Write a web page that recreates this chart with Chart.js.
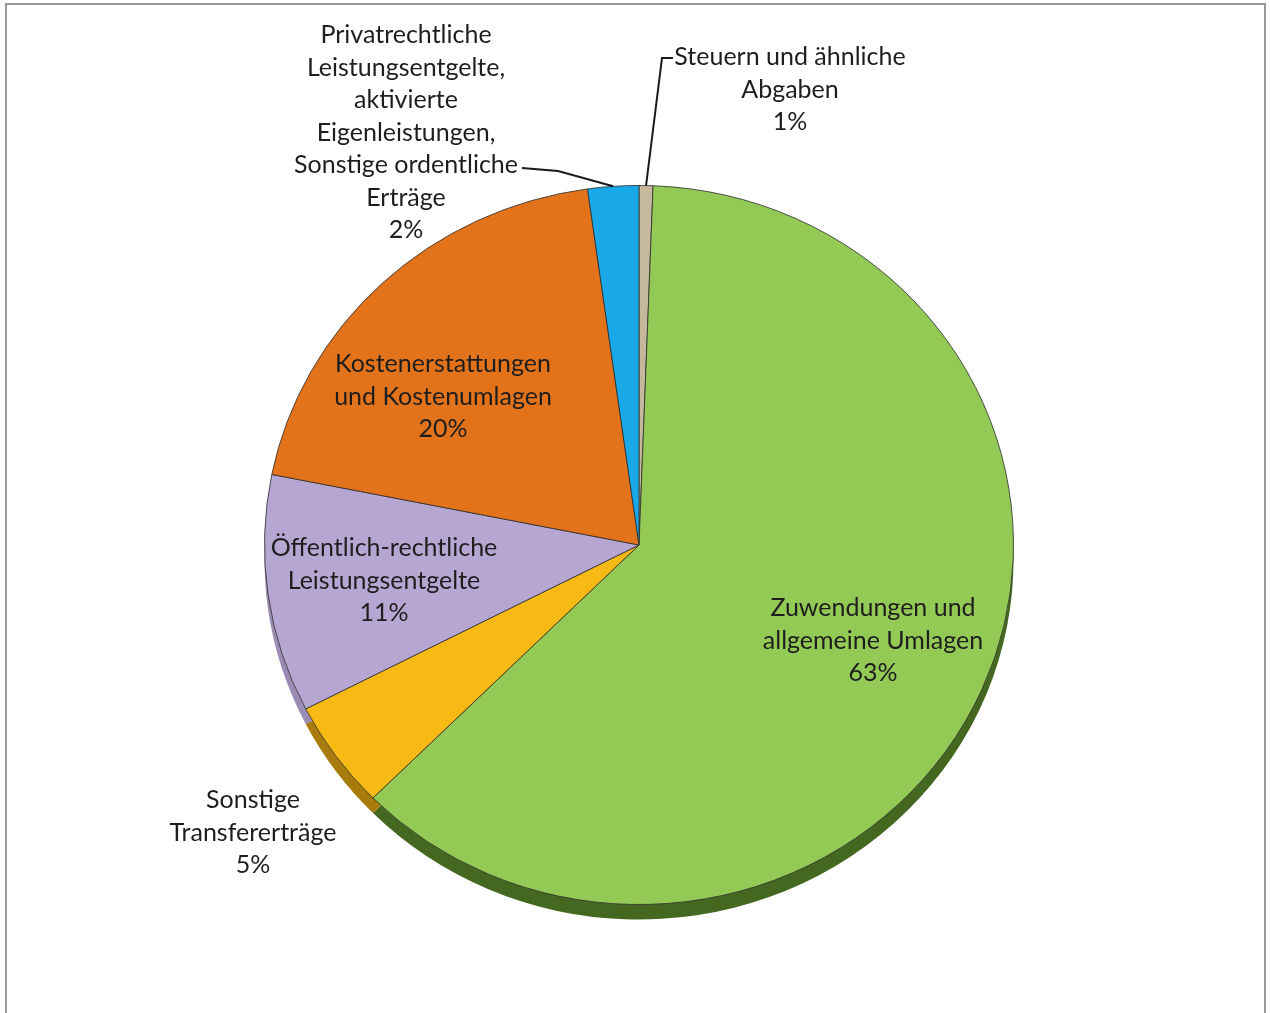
<!DOCTYPE html>
<html>
<head>
<meta charset="utf-8">
<script src="https://cdn.jsdelivr.net/npm/chart.js@4/dist/chart.umd.min.js"></script>
<style>
    html, body { margin: 0; padding: 0; background: #fff; overflow: hidden; }
    #frame {
        position: absolute; left: 5px; top: 3px; width: 1261px; height: 1030px;
        border: 2px solid #9a9a9a; box-sizing: border-box;
    }
    #wrap { position: absolute; left: 0; top: 0; width: 1270px; height: 1013px; }
</style>
</head>
<body>
<div id="frame"></div>
<div id="wrap"><canvas id="pieChart"></canvas></div>
<script>
// Daten (Reihenfolge im Uhrzeigersinn ab 12 Uhr)
const categories = [
    'Steuern und ähnliche Abgaben',
    'Zuwendungen und allgemeine Umlagen',
    'Sonstige Transfererträge',
    'Öffentlich-rechtliche Leistungsentgelte',
    'Kostenerstattungen und Kostenumlagen',
    'Privatrechtliche Leistungsentgelte, aktivierte Eigenleistungen, Sonstige ordentliche Erträge'
];
const shares = [0.6, 62.1, 4.9, 10.7, 19.7, 2.2];
const percentLabels = ['1%', '63%', '5%', '11%', '20%', '2%'];
const labelLines = [
    ['Steuern und ähnliche', 'Abgaben'],
    ['Zuwendungen und', 'allgemeine Umlagen'],
    ['Sonstige', 'Transfererträge'],
    ['Öffentlich-rechtliche', 'Leistungsentgelte'],
    ['Kostenerstattungen', 'und Kostenumlagen'],
    ['Privatrechtliche', 'Leistungsentgelte,', 'aktivierte', 'Eigenleistungen,', 'Sonstige ordentliche', 'Erträge']
];

const colors = ['#c6b89c', '#93c955', '#f7b914', '#b6a6d2', '#e2731a', '#19a9e8'];
const sideColors = ['#8a7f68', '#44681f', '#a87c0c', '#9a8cb4', '#9a4d10', '#106e98'];

// Label-Layout: Mittelpunkt x, y der ersten Zeile; leader = Knickpunkte (oder null)
const labelPos = [
    { x: 790, y: 57, leader: [[673, 58], [662, 58]] },
    { x: 873, y: 608, leader: null },
    { x: 253, y: 800, leader: null },
    { x: 384, y: 548, leader: null },
    { x: 443, y: 364, leader: null },
    { x: 406, y: 35, leader: [[522, 168], [558, 171]] }
];

const SQUASH = 0.96;   // leichte Neigung der Torte
const DEPTH = 15;      // Höhe der Seitenfläche
const LINE_H = 32.5;

const tiltPlugin = {
    id: 'tilt',
    beforeDatasetsDraw(chart) {
        const ctx = chart.ctx;
        const arcs = chart.getDatasetMeta(0).data;
        const cx = arcs[0].x, cy = arcs[0].y;
        ctx.save();
        ctx.translate(cx, cy);
        ctx.scale(1, SQUASH);
        ctx.translate(-cx, -cy);
        // Seitenfläche: jedes Segment nach unten versetzt, dunkler
        arcs.forEach((a, i) => {
            ctx.beginPath();
            ctx.moveTo(a.x, a.y + DEPTH / SQUASH);
            ctx.arc(a.x, a.y + DEPTH / SQUASH, a.outerRadius, a.startAngle, a.endAngle);
            ctx.closePath();
            ctx.fillStyle = sideColors[i];
            ctx.fill();
        });
    },
    afterDatasetsDraw(chart) {
        chart.ctx.restore();
    },
    afterDraw(chart) {
        const ctx = chart.ctx;
        const arcs = chart.getDatasetMeta(0).data;
        ctx.save();
        ctx.font = '25px Lato';
        ctx.fillStyle = '#1e1e1e';
        ctx.textAlign = 'center';
        ctx.textBaseline = 'middle';
        arcs.forEach((a, i) => {
            const p = labelPos[i];
            const lines = labelLines[i].concat([percentLabels[i]]);
            lines.forEach((t, k) => ctx.fillText(t, p.x, p.y + k * LINE_H));
            if (p.leader) {
                const mid = (a.startAngle + a.endAngle) / 2;
                const ex = a.x + Math.cos(mid) * a.outerRadius;
                const ey = a.y + Math.sin(mid) * a.outerRadius * SQUASH;
                ctx.beginPath();
                ctx.moveTo(p.leader[0][0], p.leader[0][1]);
                for (let k = 1; k < p.leader.length; k++) ctx.lineTo(p.leader[k][0], p.leader[k][1]);
                ctx.lineTo(ex, ey);
                ctx.strokeStyle = '#1a1a1a';
                ctx.lineWidth = 2;
                ctx.stroke();
            }
        });
        ctx.restore();
    }
};

new Chart(document.getElementById('pieChart'), {
    type: 'pie',
    data: {
        labels: categories,
        datasets: [{
            data: shares,
            backgroundColor: colors,
            borderColor: 'rgba(50,50,50,0.85)',
            borderWidth: 1
        }]
    },
    options: {
        responsive: true,
        maintainAspectRatio: false,
        animation: false,
        layout: { padding: { left: 8, right: 0, top: 170, bottom: 93 } },
        plugins: { legend: { display: false }, tooltip: { enabled: false } }
    },
    plugins: [tiltPlugin]
});
</script>
</body>
</html>
